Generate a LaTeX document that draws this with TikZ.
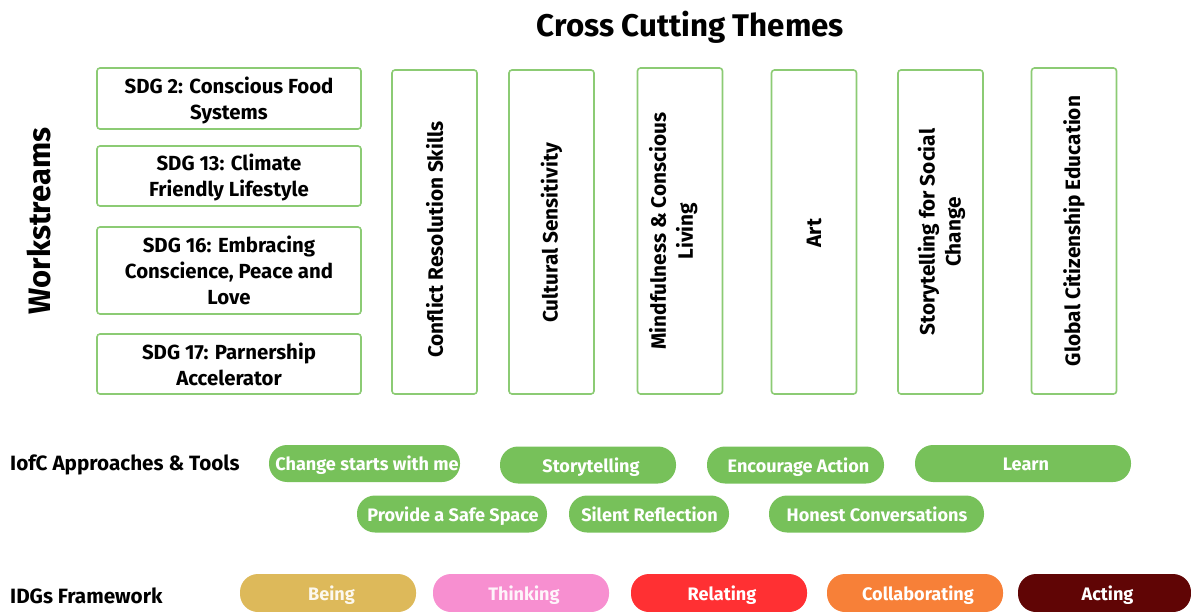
\documentclass[tikz,border=0pt]{standalone}
\usepackage{fontspec}
\setmainfont{Fira Sans}
\definecolor{gr}{HTML}{77C15A}
\definecolor{grl}{HTML}{8CCB74}
\definecolor{beingc}{HTML}{DDB95A}
\definecolor{thinkc}{HTML}{F78FD0}
\definecolor{relc}{HTML}{FF3033}
\definecolor{colc}{HTML}{F78038}
\definecolor{actc}{HTML}{600505}
\newcommand{\boxfont}{\fontsize{20.4}{26}\selectfont\bfseries}
\newcommand{\vfont}{\fontsize{20.8}{26}\selectfont\bfseries}
\newcommand{\pillfont}{\fontsize{18.1}{22}\selectfont\bfseries}
\newcommand{\labfont}{\fontsize{20.7}{24}\selectfont\bfseries}
\tikzset{
  x=1pt,y=-1pt,
  hbox/.style={draw=grl,line width=1.6pt,rounded corners=3pt,fill=white,align=center,inner sep=0pt,text=black,font=\boxfont},
  vbox/.style={hbox,rotate=90,minimum width=324pt,minimum height=85pt,font=\vfont},
  pill/.style={rounded corners=18pt,inner sep=0pt,text=white,font=\pillfont,minimum height=37pt,text height=16pt,text depth=2pt},
  gpill/.style={pill,fill=gr},
  lab/.style={anchor=west,inner sep=0pt,text=black,font=\labfont}
}
\begin{document}
\begin{tikzpicture}
\useasboundingbox (0,0) rectangle (1191,612);
\node[inner sep=0pt,font=\fontsize{31.3}{34}\selectfont\bfseries] (title) at (690.5,27) {Cross Cutting Themes};
\node[inner sep=0pt,rotate=90,font=\fontsize{31}{34}\selectfont\bfseries] (ws) at (39,221) {Workstreams};
\node[hbox,minimum width=264pt,minimum height=61pt] (a) at (229,98.5) {\rule{0pt}{20pt}SDG 2: Conscious Food\\Systems};
\node[hbox,minimum width=264pt,minimum height=60pt] (b) at (229,176) {\rule{0pt}{19pt}SDG 13: Climate\\Friendly Lifestyle};
\node[hbox,minimum width=264pt,minimum height=87pt] (c) at (229,270.5) {SDG 16: Embracing\\Conscience, Peace and\\Love};
\node[hbox,minimum width=264pt,minimum height=60pt] (d) at (229,364) {\rule{0pt}{16pt}SDG 17: Parnership\\Accelerator};
\node[vbox] (v1) at (434.5,232) {\hspace*{-15pt}Conflict Resolution Skills};
\node[vbox] (v2) at (551.5,232) {\hspace*{-2pt}Cultural Sensitivity};
\node[vbox,minimum width=326pt] (v3) at (680,231) {Mindfulness \& Conscious\\[1pt]Living\rule[-18pt]{0pt}{18pt}};
\node[vbox] (v4) at (814,232) {\hspace*{-2pt}Art};
\node[vbox] (v5) at (940.5,232) {\rule{0pt}{19pt}Storytelling for Social\\Change};
\node[vbox,minimum width=326pt] (v6) at (1074,231) {Global Citizenship Education};
\node[lab] (l1) at (10,465) {IofC Approaches \& Tools};
\node[lab] (l2) at (10,596) {IDGs Framework};
\node[gpill,minimum width=191pt] (p1) at (364.5,463.5) {\hspace{5pt}Change starts with me};
\node[gpill,minimum width=176pt] (p2) at (588,465) {\hspace{6pt}Storytelling};
\node[gpill,minimum width=177pt] (p3) at (795.5,465) {\hspace{6pt}Encourage Action};
\node[gpill,minimum width=216pt] (p4) at (1023,463.5) {\hspace{6pt}Learn};
\node[gpill,minimum width=190pt] (p5) at (452,514) {\hspace{2pt}Provide a Safe Space};
\node[gpill,minimum width=160pt] (p6) at (649,514) {\hspace{1pt}Silent Reflection};
\node[gpill,minimum width=215pt] (p7) at (876.5,514) {\hspace{1pt}Honest Conversations};
\node[pill,fill=beingc,minimum width=176pt,minimum height=38pt,text=white!90!beingc] (g1) at (328,593) {\hspace{7pt}Being};
\node[pill,fill=thinkc,minimum width=176pt,minimum height=38pt,text=white!90!thinkc] (g2) at (521,593) {\hspace{6pt}Thinking};
\node[pill,fill=relc,minimum width=176pt,minimum height=38pt] (g3) at (719,593) {\hspace{6pt}Relating};
\node[pill,fill=colc,minimum width=176pt,minimum height=38pt] (g4) at (915,593) {\hspace{6pt}Collaborating};
\node[pill,fill=actc,minimum width=173pt,minimum height=38pt] (g5) at (1104.5,593) {\hspace{6pt}Acting};
\end{tikzpicture}
\end{document}
